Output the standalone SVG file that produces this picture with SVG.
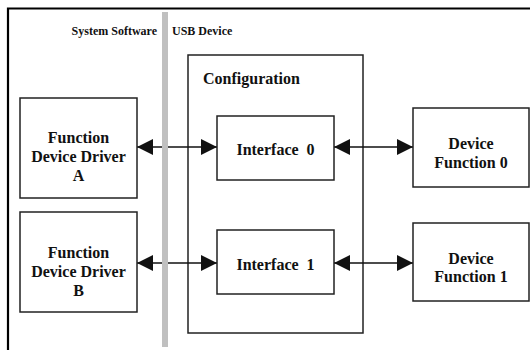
<svg xmlns="http://www.w3.org/2000/svg" width="530" height="350" viewBox="0 0 530 350">
<style>
.box{fill:#fff;stroke:#222;stroke-width:1.5}
.t{font-family:"Liberation Serif",serif;font-weight:bold;font-size:16px;fill:#111;text-anchor:middle}
.s{font-family:"Liberation Serif",serif;font-weight:bold;font-size:12px;fill:#111}
.c{stroke:#111;stroke-width:1.3;fill:none;marker-start:url(#ah);marker-end:url(#ah)}
</style>
<defs>
<marker id="ah" viewBox="0 0 16 16" refX="16" refY="8" markerWidth="16" markerHeight="16" markerUnits="userSpaceOnUse" orient="auto-start-reverse">
<path d="M0,0 L16,8 L0,16 Z" fill="#111"/>
</marker>
</defs>
<rect width="530" height="350" fill="#fff"/>
<path d="M8,350 V8.5 H530" fill="none" stroke="#000" stroke-width="2.2"/>
<text class="s" x="157" y="35" text-anchor="end">System Software</text>
<text class="s" x="172" y="35">USB Device</text>
<g id="configuration">
<rect class="box" x="188" y="55" width="175" height="278"/>
<text class="t" x="203" y="84" style="text-anchor:start">Configuration</text>
</g>
<g id="connectors">
<line class="c" x1="137" y1="147" x2="217" y2="147"/>
<line class="c" x1="137" y1="263" x2="217" y2="263"/>
<line class="c" x1="334" y1="147" x2="413" y2="147"/>
<line class="c" x1="334" y1="263" x2="413" y2="263"/>
</g>
<rect id="divider" x="162" y="12" width="6" height="335" fill="#c0c0c0"/>
<g id="driverA">
<rect class="box" x="20" y="98" width="117" height="100"/>
<text class="t" x="78.5" y="143">Function</text>
<text class="t" x="78.5" y="162">Device Driver</text>
<text class="t" x="78.5" y="181">A</text>
</g>
<g id="driverB">
<rect class="box" x="20" y="212" width="117" height="100"/>
<text class="t" x="78.5" y="258">Function</text>
<text class="t" x="78.5" y="277">Device Driver</text>
<text class="t" x="78.5" y="296">B</text>
</g>
<g id="interface0">
<rect class="box" x="217" y="116" width="117" height="64"/>
<text class="t" x="275.5" y="155" xml:space="preserve">Interface  0</text>
</g>
<g id="interface1">
<rect class="box" x="217" y="230" width="117" height="64"/>
<text class="t" x="275.5" y="270" xml:space="preserve">Interface  1</text>
</g>
<g id="function0">
<rect class="box" x="413" y="108" width="116" height="79"/>
<text class="t" x="471" y="149">Device</text>
<text class="t" x="471" y="168">Function 0</text>
</g>
<g id="function1">
<rect class="box" x="413" y="223" width="116" height="78"/>
<text class="t" x="471" y="264">Device</text>
<text class="t" x="471" y="282">Function 1</text>
</g>
</svg>
